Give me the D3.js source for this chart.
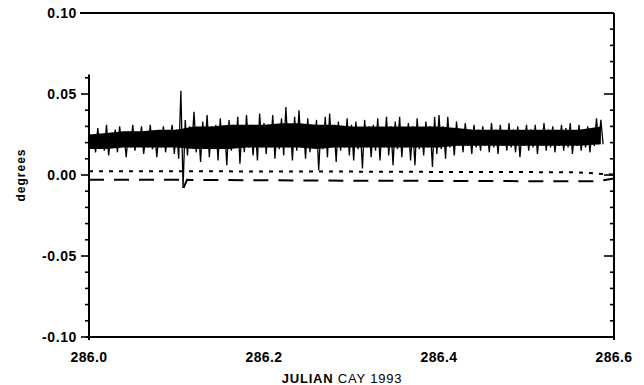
<!DOCTYPE html>
<html>
<head>
<meta charset="utf-8">
<script src="https://cdn.jsdelivr.net/npm/d3@7"></script>
<style>
  html, body { margin: 0; padding: 0; background: #fff; }
  svg { display: block; }
  text { font-family: "Liberation Sans", Arial, sans-serif; fill: #000; }
</style>
</head>
<body>
<div id="chart"></div>
<script>
// julian day sampling of the trace (day 286 + i * step)
const traceStart = 286.0;
const traceStep = 0.005;

// upper and lower excursions of the attitude trace in each sample slot (degrees)
const traceHigh = [
  0.027, 0.024, 0.029, 0.025, 0.031, 0.026, 0.028, 0.030, 0.025, 0.027,
  0.031, 0.026, 0.030, 0.025, 0.031, 0.027, 0.026, 0.030, 0.025, 0.031,
  0.028, 0.052, 0.034, 0.030, 0.039, 0.029, 0.033, 0.037, 0.030, 0.031,
  0.035, 0.029, 0.034, 0.031, 0.036, 0.030, 0.037, 0.031, 0.029, 0.038,
  0.032, 0.030, 0.037, 0.031, 0.035, 0.042, 0.031, 0.036, 0.040, 0.030,
  0.035, 0.031, 0.034, 0.030, 0.036, 0.038, 0.030, 0.033, 0.029, 0.035,
  0.031, 0.033, 0.029, 0.034, 0.030, 0.031, 0.035, 0.029, 0.036, 0.030,
  0.033, 0.036, 0.029, 0.032, 0.030, 0.035, 0.029, 0.033, 0.030, 0.036,
  0.037, 0.030, 0.036, 0.029, 0.033, 0.028, 0.032, 0.027, 0.031, 0.028,
  0.030, 0.027, 0.032, 0.028, 0.031, 0.027, 0.032, 0.028, 0.030, 0.027,
  0.031, 0.028, 0.031, 0.027, 0.032, 0.028, 0.030, 0.027, 0.031, 0.029,
  0.032, 0.027, 0.031, 0.028, 0.030, 0.029, 0.035, 0.034
];
const traceLow = [
  0.017, 0.014, 0.018, 0.015, 0.012, 0.017, 0.014, 0.018, 0.011, 0.017,
  0.015, 0.018, 0.013, 0.017, 0.016, 0.011, 0.017, 0.014, 0.018, 0.013,
  0.010, -0.008, 0.012, 0.017, 0.014, 0.008, 0.017, 0.011, 0.016, 0.009,
  0.017, 0.006, 0.015, 0.017, 0.007, 0.014, 0.017, 0.012, 0.009, 0.017,
  0.013, 0.017, 0.010, 0.016, 0.012, 0.017, 0.009, 0.015, 0.017, 0.010,
  0.014, 0.017, 0.003, 0.016, 0.011, 0.017, 0.008, 0.015, 0.017, 0.012,
  0.009, 0.016, 0.004, 0.017, 0.011, 0.015, 0.009, 0.017, 0.012, 0.006,
  0.016, 0.011, 0.017, 0.009, 0.006, 0.016, 0.012, 0.017, 0.005, 0.013,
  0.016, 0.010, 0.017, 0.012, 0.018, 0.014, 0.018, 0.013, 0.017, 0.015,
  0.018, 0.014, 0.017, 0.013, 0.018, 0.015, 0.017, 0.014, 0.011, 0.018,
  0.015, 0.017, 0.013, 0.018, 0.015, 0.017, 0.014, 0.018, 0.015, 0.017,
  0.013, 0.018, 0.015, 0.017, 0.014, 0.018, 0.019, 0.019
];

// dense core of the trace, every 0.02 day
const coreDays = [
  286.00, 286.02, 286.04, 286.06, 286.08, 286.10, 286.12, 286.14, 286.16, 286.18,
  286.20, 286.22, 286.24, 286.26, 286.28, 286.30, 286.32, 286.34, 286.36, 286.38,
  286.40, 286.42, 286.44, 286.46, 286.48, 286.50, 286.52, 286.54, 286.56, 286.585
];
const coreTop = [
  0.025, 0.026, 0.027, 0.027, 0.028, 0.028, 0.030, 0.030, 0.031, 0.031,
  0.031, 0.032, 0.032, 0.031, 0.031, 0.030, 0.030, 0.030, 0.030, 0.030,
  0.030, 0.029, 0.028, 0.028, 0.028, 0.028, 0.028, 0.028, 0.028, 0.030
];
const coreBottom = [
  0.016, 0.016, 0.017, 0.017, 0.017, 0.017, 0.016, 0.016, 0.016, 0.017,
  0.017, 0.017, 0.017, 0.016, 0.017, 0.017, 0.017, 0.017, 0.017, 0.017,
  0.017, 0.018, 0.018, 0.018, 0.018, 0.018, 0.018, 0.018, 0.018, 0.019
];

// short-dash reference line
const dotDays = [286.0, 286.1, 286.2, 286.3, 286.4, 286.5, 286.56, 286.6];
const dotValues = [0.0023, 0.0023, 0.0022, 0.0021, 0.0019, 0.0018, 0.0016, 0.0002];

// long-dash reference line
const dashDays = [286.0, 286.104, 286.108, 286.112, 286.3, 286.5, 286.58, 286.6];
const dashValues = [-0.003, -0.003, -0.008, -0.003, -0.0035, -0.0038, -0.0038, -0.0022];

const xTicks = [286.0, 286.2, 286.4, 286.6];
const xTickLabels = ["286.0", "286.2", "286.4", "286.6"];
const yTicks = [-0.10, -0.05, 0.00, 0.05, 0.10];
const yTickLabels = ["-0.10", "-0.05", "0.00", "0.05", "0.10"];
const yMinorTicks = d3.range(-10, 11).map(d => d / 100);

const width = 644, height = 385;
const margin = { top: 13, right: 30, bottom: 48, left: 89 };

const svg = d3.select("#chart")
  .append("svg")
  .attr("width", width)
  .attr("height", height);

const x = d3.scaleLinear()
  .domain([286.0, 286.6])
  .range([margin.left, width - margin.right]);

const y = d3.scaleLinear()
  .domain([-0.10, 0.10])
  .range([height - margin.bottom, margin.top]);

// frame
svg.append("line")
  .attr("x1", x(286.0) - 9).attr("x2", x(286.6))
  .attr("y1", y(0.10)).attr("y2", y(0.10))
  .attr("stroke", "#000").attr("stroke-width", 2);
svg.append("line")
  .attr("x1", x(286.0) - 3).attr("x2", x(286.6))
  .attr("y1", y(-0.10)).attr("y2", y(-0.10))
  .attr("stroke", "#000").attr("stroke-width", 2);
svg.append("line")
  .attr("x1", x(286.0)).attr("x2", x(286.0))
  .attr("y1", y(0.062)).attr("y2", y(-0.10) + 3)
  .attr("stroke", "#000").attr("stroke-width", 2);
svg.append("line")
  .attr("x1", x(286.6)).attr("x2", x(286.6))
  .attr("y1", y(0.10)).attr("y2", y(-0.10) + 3)
  .attr("stroke", "#000").attr("stroke-width", 2);

// left ticks (outward), right ticks (inward)
const isMajor = v => Math.abs(Math.round(v * 100) % 5) === 0;
svg.append("g")
  .selectAll("line")
  .data(yMinorTicks.filter(v => v <= 0.06))
  .join("line")
  .attr("x1", d => x(286.0) - (isMajor(d) ? 8 : 4))
  .attr("x2", x(286.0))
  .attr("y1", d => y(d)).attr("y2", d => y(d))
  .attr("stroke", "#000").attr("stroke-width", 1.6);
svg.append("g")
  .selectAll("line")
  .data(yMinorTicks)
  .join("line")
  .attr("x1", d => x(286.6) - (isMajor(d) ? 10 : 4))
  .attr("x2", x(286.6))
  .attr("y1", d => y(d)).attr("y2", d => y(d))
  .attr("stroke", "#000").attr("stroke-width", 1.6);

// tick labels
svg.append("g")
  .selectAll("text")
  .data(yTicks)
  .join("text")
  .attr("x", x(286.0) - 12)
  .attr("y", d => y(d))
  .attr("dy", "0.36em")
  .attr("text-anchor", "end")
  .style("font-size", "14px")
  .style("font-weight", "bold")
  .style("letter-spacing", "0.6px")
  .text((d, i) => yTickLabels[i]);

svg.append("g")
  .selectAll("text")
  .data(xTicks)
  .join("text")
  .attr("x", d => x(d))
  .attr("y", y(-0.10) + 25)
  .attr("text-anchor", "middle")
  .style("font-size", "14px")
  .style("font-weight", "bold")
  .style("letter-spacing", "0.4px")
  .text((d, i) => xTickLabels[i]);

// axis titles
svg.append("text")
  .attr("x", 342)
  .attr("y", 383)
  .attr("text-anchor", "middle")
  .style("font-size", "13px")
  .style("letter-spacing", "0.8px")
  .html('<tspan font-weight="bold">JULIAN</tspan> CAY 1993');

svg.append("text")
  .attr("transform", `translate(25,${y(0)}) rotate(-90)`)
  .attr("text-anchor", "middle")
  .style("font-size", "12px")
  .style("font-weight", "bold")
  .style("letter-spacing", "1px")
  .text("degrees");

// reference lines
const line = d3.line().x(d => x(d[0])).y(d => y(d[1]));

svg.append("path")
  .datum(dotDays.map((d, i) => [d, dotValues[i]]))
  .attr("d", line)
  .attr("fill", "none")
  .attr("stroke", "#000")
  .attr("stroke-width", 2)
  .attr("stroke-dasharray", "4,6");

svg.append("path")
  .datum(dashDays.map((d, i) => [d, dashValues[i]]))
  .attr("d", line)
  .attr("fill", "none")
  .attr("stroke", "#000")
  .attr("stroke-width", 2)
  .attr("stroke-dasharray", "15,10");

// dense core band
const coreArea = d3.area()
  .x(d => x(d[0]))
  .y0(d => y(d[2]))
  .y1(d => y(d[1]));

svg.append("path")
  .datum(coreDays.map((d, i) => [d, coreTop[i], coreBottom[i]]))
  .attr("d", coreArea)
  .attr("fill", "#000");

// noisy attitude trace: swing from high to low within each slot
const tracePoints = [];
traceHigh.forEach((h, i) => {
  const t = traceStart + i * traceStep;
  tracePoints.push([t, h]);
  tracePoints.push([t + traceStep / 2, traceLow[i]]);
});

svg.append("path")
  .datum(tracePoints)
  .attr("d", line)
  .attr("fill", "none")
  .attr("stroke", "#000")
  .attr("stroke-width", 1.3);
</script>
</body>
</html>
